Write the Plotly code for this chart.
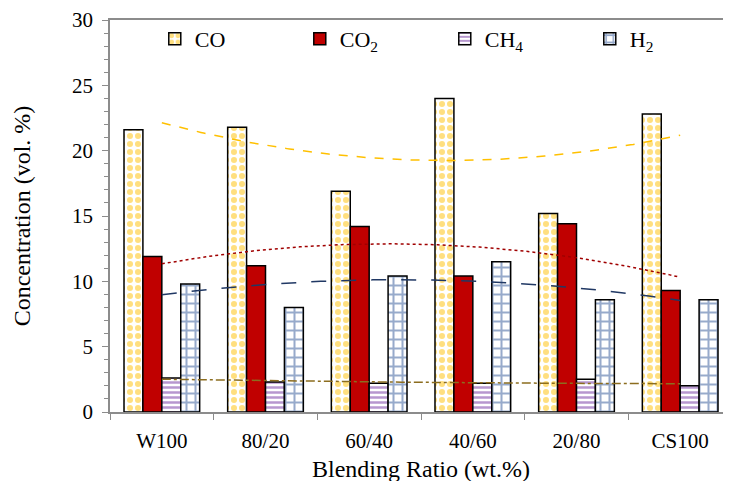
import numpy as np
import plotly.graph_objects as go

categories = ["W100", "80/20", "60/40", "40/60", "20/80", "CS100"]
co = [21.6, 21.8, 16.9, 24.0, 15.2, 22.8]
co2 = [11.9, 11.2, 14.2, 10.4, 14.4, 9.3]
ch4 = [2.6, 2.3, 2.2, 2.2, 2.5, 2.0]
h2 = [9.8, 8.0, 10.4, 11.5, 8.6, 8.6]
y_ticks = [0, 5, 10, 15, 20, 25, 30]

FONT = "Liberation Serif"
TICK_FS = 21
TITLE_FS = 24
fig = go.Figure()

series = [
    ("CO", co, dict(color="white", pattern=dict(shape=".", fgcolor="#FFC000", bgcolor="white", size=8, solidity=0.45, fillmode="overlay"))),
    ("CO<sub>2</sub>", co2, dict(color="#C00000")),
    ("CH<sub>4</sub>", ch4, dict(color="white", pattern=dict(shape="-", fgcolor="#7030A0", bgcolor="white", size=5, solidity=0.5, fillmode="overlay"))),
    ("H<sub>2</sub>", h2, dict(color="white", pattern=dict(shape="+", fgcolor="#2F5597", bgcolor="white", size=9, solidity=0.4, fillmode="overlay"))),
]
for name, vals, marker in series:
    marker = dict(marker)
    marker["line"] = dict(color="black", width=1.5)
    fig.add_trace(go.Bar(x=categories, y=vals, name=name, marker=marker))

# polynomial (order 2) trendlines
trend_styles = [
    (co, "#FFC000", "dash"),
    (co2, "#A00000", "dot"),
    (ch4, "#8C6D1F", "dashdot"),
    (h2, "#203864", "longdash"),
]
xi = np.arange(len(categories))
xs = np.linspace(0, len(categories) - 1, 200)
for vals, color, dash in trend_styles:
    p = np.polyfit(xi, vals, 2)
    fig.add_trace(go.Scatter(x=xs, y=np.polyval(p, xs), mode="lines", xaxis="x2",
                             line=dict(color=color, width=1.5, dash=dash),
                             showlegend=False, hoverinfo="skip"))

fig.update_layout(
    width=731, height=481,
    margin=dict(l=102, r=7, t=12, b=77, autoexpand=False),
    paper_bgcolor="white", plot_bgcolor="white",
    font=dict(family=FONT, size=TICK_FS, color="black"),
    barmode="group", bargap=0.27, bargroupgap=0,
    legend=dict(orientation="h", x=0.072, y=1.005, xanchor="left", yanchor="top",
                font=dict(family=FONT, size=22), entrywidth=100, itemwidth=30,
                bgcolor="rgba(0,0,0,0)", traceorder="normal", tracegroupgap=0),
    xaxis=dict(showline=True, linecolor="#8c8c8c", linewidth=1.5, mirror=True,
               ticks="outside", tickson="boundaries", ticklen=6, tickcolor="#8c8c8c",
               tickfont=dict(family=FONT, size=TICK_FS), automargin=False, ticklabelstandoff=9,
               title=dict(text="Blending Ratio (wt.%)", standoff=8, font=dict(family=FONT, size=TITLE_FS)),
               showgrid=False),
    xaxis2=dict(overlaying="x", range=[-0.5, len(categories) - 0.5], visible=False),
    yaxis=dict(range=[0, 30], tickvals=y_ticks, showline=True, linecolor="#8c8c8c", linewidth=1.5,
               ticks="outside", ticklen=6, tickcolor="#8c8c8c", showgrid=False, zeroline=False,
               minor=dict(dtick=1, ticks="outside", ticklen=4, tickcolor="#8c8c8c"),
               tickfont=dict(family=FONT, size=TICK_FS), automargin=False, ticklabelstandoff=5,
               title=dict(text="Concentration (vol. %)", standoff=35, font=dict(family=FONT, size=TITLE_FS))),
)
fig.write_html("out.html")
